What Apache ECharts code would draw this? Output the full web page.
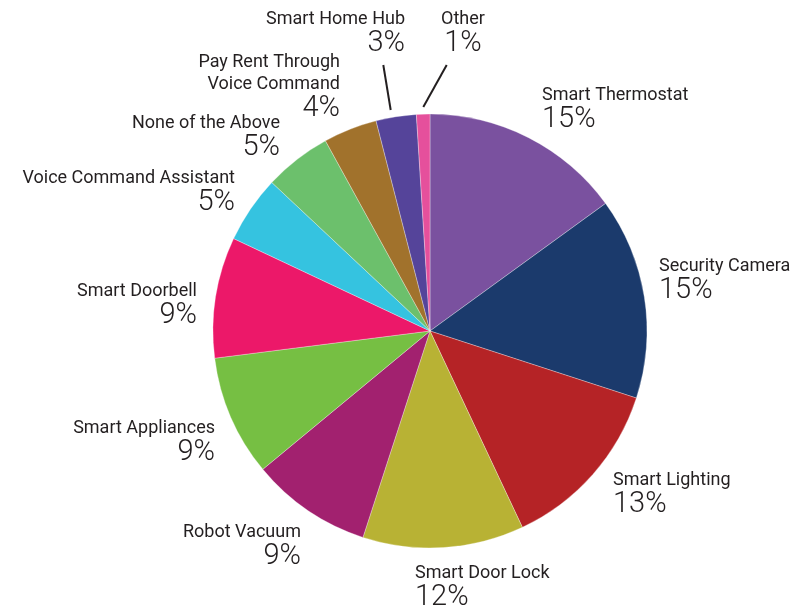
<!DOCTYPE html>
<html>
<head>
<meta charset="utf-8">
<script src="https://cdn.jsdelivr.net/npm/echarts@6/dist/echarts.min.js"></script>
<style>
  html, body { margin: 0; padding: 0; background: #ffffff; }
  #chart { width: 809px; height: 611px; }
</style>
</head>
<body>
<div id="chart"></div>
<script>
// Smart home features, share of respondents (%)
const categories = [
  'Smart Thermostat',
  'Security Camera',
  'Smart Lighting',
  'Smart Door Lock',
  'Robot Vacuum',
  'Smart Appliances',
  'Smart Doorbell',
  'Voice Command Assistant',
  'None of the Above',
  'Pay Rent Through\nVoice Command',
  'Smart Home Hub',
  'Other'
];
const shares = [15, 15, 13, 12, 9, 9, 9, 5, 5, 4, 3, 1];
const sliceColors = [
  '#7a519f', '#1b3a6c', '#b52326', '#b8b234', '#a2216f', '#76bf43',
  '#ec1869', '#35c3e0', '#6cc06c', '#a1722c', '#55449a', '#e5509c'
];

// Label placement: [x, y of block top, horizontal alignment]
const labelSpots = [
  [542, 84, 'left'],
  [659, 255, 'left'],
  [613, 469, 'left'],
  [415, 562, 'left'],
  [301, 521, 'right'],
  [215, 417, 'right'],
  [197, 280, 'right'],
  [235, 167, 'right'],
  [280, 112, 'right'],
  [340, 51, 'right'],
  [405, 8, 'right'],
  [463, 8, 'center']
];
// Leader lines for the two thin slices at the top
const leaderLines = {
  10: [[390.7, 110], [383.3, 65]],
  11: [[423.3, 107], [446.7, 65]]
};

const textColor = '#231f20';
const fontFamily = 'Roboto, "Liberation Sans", sans-serif';

const chart = echarts.init(document.getElementById('chart'), null, { renderer: 'canvas' });

chart.setOption({
  animation: false,
  backgroundColor: '#ffffff',
  series: [{
    type: 'pie',
    center: [430, 331],
    radius: [0, 217],
    startAngle: 90,
    clockwise: true,
    avoidLabelOverlap: false,
    itemStyle: { borderColor: 'rgba(255,255,255,0.6)', borderWidth: 0.5 },
    label: {
      show: true,
      position: 'outside',
      fontFamily: fontFamily,
      color: textColor,
      formatter: p => '{name|' + p.name.split('\n').join('}\n{name|') + '}\n{pct|' + p.value + '%}',
      rich: {
        name: { fontSize: 18, lineHeight: 22, color: textColor, fontFamily: fontFamily, fontWeight: 400 },
        pct: { fontSize: 29, lineHeight: 28, color: textColor, fontFamily: fontFamily, fontWeight: 300 }
      }
    },
    labelLine: {
      show: true,
      lineStyle: { color: textColor, width: 2 }
    },
    labelLayout: params => {
      const spot = labelSpots[params.dataIndex];
      return {
        x: spot[0],
        y: spot[1],
        align: spot[2],
        verticalAlign: 'top',
        labelLinePoints: leaderLines[params.dataIndex] || [[0, 0], [0, 0]]
      };
    },
    data: categories.map((name, i) => ({
      name: name,
      value: shares[i],
      itemStyle: { color: sliceColors[i] },
      labelLine: { show: !!leaderLines[i] }
    }))
  }]
});
</script>
</body>
</html>
